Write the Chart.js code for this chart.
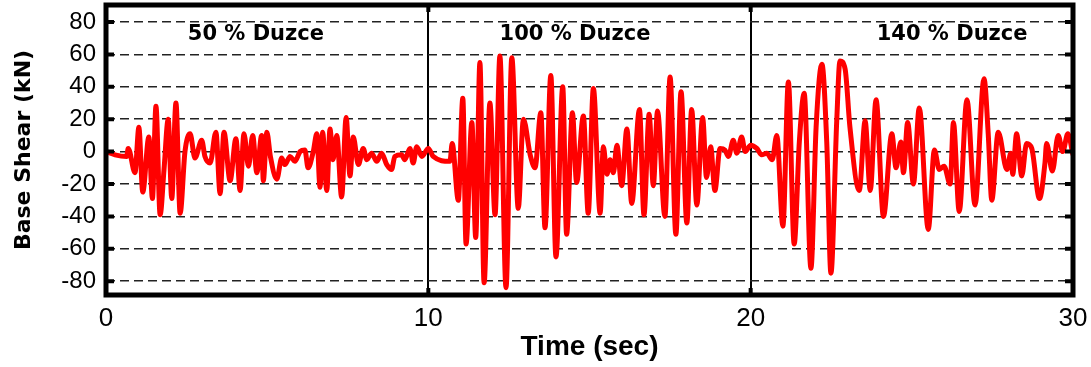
<!DOCTYPE html>
<html>
<head>
<meta charset="utf-8">
<script src="https://cdn.jsdelivr.net/npm/chart.js@4.4.1/dist/chart.umd.min.js"></script>
<style>
  html, body { margin: 0; padding: 0; background: #fff; }
  #wrap { width: 1091px; height: 367px; }
</style>
</head>
<body>
<div id="wrap"><canvas id="chart"></canvas></div>
<script>
// 50 % Duzce run (0 - 10 s)
const t50 = [0, 0.28, 0.64, 0.69, 0.90, 1.02, 1.14, 1.33, 1.44, 1.55, 1.68, 1.80, 1.93, 2.04, 2.17,
  2.30, 2.45, 2.61, 2.76, 2.97, 3.07, 3.23, 3.41, 3.54, 3.66, 3.85, 4.03, 4.16, 4.28, 4.42,
  4.55, 4.68, 4.83, 4.88, 4.99, 5.10, 5.30, 5.45, 5.55, 5.71, 5.86, 6.02, 6.17, 6.27, 6.43, 6.54,
  6.64, 6.72, 6.85, 6.95, 7.04, 7.16, 7.31, 7.45, 7.57, 7.67, 7.83, 7.98, 8.09, 8.24, 8.40,
  8.55, 8.71, 8.86, 8.96, 9.17, 9.27, 9.43, 9.53, 9.64, 9.80, 10.0];
const v50 = [0, -2, -3, 2, -13, 15, -25, 9, -29, 28, -39, -11, 20, -29, 30,
  -38, 0, 11, -4, 7, -3, -7, 12, -26, 12, -18, 8, -24, 11, -9,
  10, -13, 10, -18, 12, -3, -17, -4, -8, -3, -6, 0, 1, -10, 0, 11,
  -22, 12, -24, 14, -5, 10, -28, 21, -15, 9, -8, 2, -5, -1, -6,
  -1, -8, -11, -3, -2, -5, 2, -7, 3, -3, 2];

// 100 % Duzce run (10 - 20 s)
const t100 = [10.15, 10.67, 10.74, 10.93, 11.07, 11.17, 11.35, 11.47, 11.60, 11.73,
  11.91, 12.07, 12.22, 12.41, 12.59, 12.79, 12.95, 13.16, 13.31, 13.49,
  13.62, 13.80, 13.96, 14.17, 14.29, 14.47, 14.60, 14.81, 14.96, 15.12,
  15.33, 15.43, 15.54, 15.64, 15.74, 15.85, 16.00, 16.16, 16.31, 16.55,
  16.69, 16.85, 16.98, 17.11, 17.34, 17.50, 17.68, 17.84, 18.02, 18.17,
  18.33, 18.51, 18.63, 18.76, 18.89, 19.05, 19.20, 19.31, 19.46, 19.57,
  19.72, 19.83, 20.0];
const v100 = [-3, -6, 5, -30, 33, -57, 18, -53, 55, -81,
  30, -39, 59, -84, 58, -35, 20, -2, -10, 24,
  -47, 47, -65, 40, -51, 24, -19, 22, -38, 39,
  -38, 3, -14, -5, -13, 4, -21, 14, -32, 26,
  -39, 23, -21, 25, -40, 46, -51, 37, -44, 26,
  -33, 21, -16, 3, -24, 2, 1, -3, 7, -1,
  9, 0, 4];

// 140 % Duzce run (20 - 30 s)
const t140 = [20.19, 20.34, 20.50, 20.67, 20.81, 21.00, 21.17, 21.35, 21.51, 21.66,
  21.87, 22.03, 22.21, 22.36, 22.49, 22.67, 22.77, 22.93, 23.08, 23.37,
  23.55, 23.71, 23.89, 24.12, 24.38, 24.51, 24.66, 24.74, 24.87, 25.05,
  25.23, 25.51, 25.70, 25.85, 26.00, 26.19, 26.29, 26.47, 26.71, 26.96,
  27.24, 27.37, 27.48, 27.68, 27.95, 28.07, 28.13, 28.25, 28.41, 28.56,
  28.72, 28.96, 29.13, 29.18, 29.36, 29.54, 29.68, 29.84, 30.0];
const v140 = [2, -2, -1, -5, 10, -46, 43, -57, 6, 36,
  -72, 15, 54, 6, -75, 19, 56, 51, 15, -24,
  19, -24, 32, -40, 11, -10, 6, -13, 18, -20,
  27, -48, 1, -11, -9, -20, 18, -37, 32, -33,
  45, 11, -30, 12, -11, -1, -14, 11, -15, 5,
  2, -29, -7, 5, -12, 10, 0, 11, -2];

const yTicks = [-80, -60, -40, -20, 0, 20, 40, 60, 80];
const xTicks = [0, 10, 20, 30];
const runLabels = ['50 % Duzce', '100 % Duzce', '140 % Duzce'];
const runLabelTime = [4.65, 14.55, 26.25];

const times = t50.concat(t100, t140);
const shear = v50.concat(v100, v140);
const points = times.map((t, i) => ({ x: t, y: shear[i] }));

// thick frame, inward tick marks and run labels
const framePlugin = {
    id: 'frame',
    afterDraw(chart) {
        const { ctx, chartArea: a, scales } = chart;
        const x = scales.x, y = scales.y;
        ctx.save();
        ctx.strokeStyle = '#000';
        ctx.lineWidth = 4;
        ctx.beginPath();
        yTicks.forEach(v => {
            const py = y.getPixelForValue(v);
            ctx.moveTo(a.left, py); ctx.lineTo(a.left + 8, py);
            ctx.moveTo(a.right, py); ctx.lineTo(a.right - 8, py);
        });
        [10, 20].forEach(v => {
            const px = x.getPixelForValue(v);
            ctx.moveTo(px, a.top); ctx.lineTo(px, a.top + 7);
            ctx.moveTo(px, a.bottom); ctx.lineTo(px, a.bottom - 7);
        });
        ctx.stroke();
        ctx.lineWidth = 5;
        ctx.strokeRect(a.left, a.top, a.right - a.left, a.bottom - a.top);

        ctx.fillStyle = '#000';
        ctx.font = 'bold 21px "DejaVu Sans"';
        ctx.textAlign = 'center';
        ctx.textBaseline = 'middle';
        runLabels.forEach((txt, i) => {
            ctx.fillText(txt, x.getPixelForValue(runLabelTime[i]), y.getPixelForValue(72));
        });
        ctx.restore();
    }
};

new Chart(document.getElementById('chart'), {
    type: 'line',
    data: {
        datasets: [{
            data: points,
            borderColor: '#ff0000',
            borderWidth: 5,
            pointRadius: 0,
            fill: false,
            cubicInterpolationMode: 'monotone'
        }]
    },
    options: {
        responsive: true,
        maintainAspectRatio: false,
        animation: false,
        layout: { padding: { top: 5, right: 18, left: 0, bottom: 0 } },
        plugins: { legend: { display: false }, tooltip: { enabled: false } },
        scales: {
            x: {
                type: 'linear',
                min: 0,
                max: 30,
                afterBuildTicks: s => { s.ticks = xTicks.map(v => ({ value: v })); },
                afterFit: s => { s.height = 72; s.paddingLeft = 0; s.paddingRight = 0; },
                ticks: {
                    color: '#000',
                    padding: 8,
                    font: { family: '"Liberation Sans Narrow", "Liberation Sans"', size: 26 }
                },
                grid: {
                    drawTicks: false,
                    lineWidth: 2,
                    color: c => (c.tick && (c.tick.value === 10 || c.tick.value === 20)) ? '#000' : 'rgba(0,0,0,0)'
                },
                border: { display: false },
                title: {
                    display: true,
                    text: 'Time (sec)',
                    color: '#000',
                    padding: { top: 0, bottom: 6 },
                    font: { family: '"Liberation Sans Narrow", "Liberation Sans"', size: 28, weight: 'bold', lineHeight: 1 }
                }
            },
            y: {
                min: -88.5,
                max: 90.5,
                afterBuildTicks: s => { s.ticks = yTicks.map(v => ({ value: v })); },
                afterFit: s => { s.width = 106; s.paddingTop = 0; s.paddingBottom = 0; },
                ticks: {
                    color: '#000',
                    padding: 10,
                    font: { family: '"Liberation Sans"', size: 24 }
                },
                grid: {
                    drawTicks: false,
                    lineWidth: 1.6,
                    color: '#222'
                },
                border: { display: false, dash: [9, 5] },
                title: {
                    display: true,
                    text: 'Base Shear (kN)',
                    color: '#000',
                    padding: { top: 11, bottom: 0 },
                    font: { family: '"DejaVu Sans"', size: 22, weight: 'bold' }
                }
            }
        }
    },
    plugins: [framePlugin]
});
</script>
</body>
</html>
